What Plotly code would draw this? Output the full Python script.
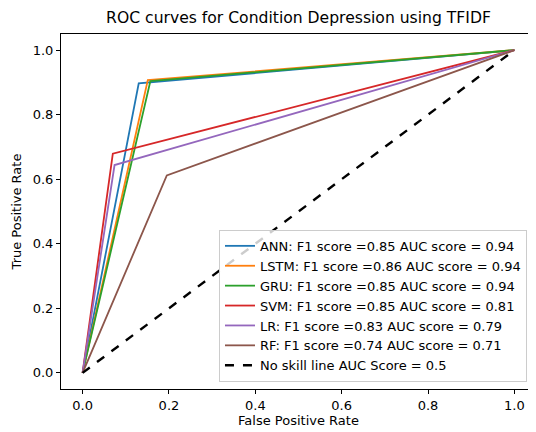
import plotly.graph_objects as go

# ROC knee points: (0,0) -> (fpr, tpr) -> (1,1)
models = ["ANN", "LSTM", "GRU", "SVM", "LR", "RF"]
fpr_knee = [0.130, 0.151, 0.157, 0.070, 0.074, 0.195]
tpr_knee = [0.897, 0.907, 0.904, 0.679, 0.644, 0.612]
f1_scores = ["0.85", "0.86", "0.85", "0.85", "0.83", "0.74"]
auc_scores = ["0.94", "0.94", "0.94", "0.81", "0.79", "0.71"]
colors = ["#1f77b4", "#ff7f0e", "#2ca02c", "#d62728", "#9467bd", "#8c564b"]
noskill_x = [0, 1]
noskill_y = [0, 1]
xticks = [0.0, 0.2, 0.4, 0.6, 0.8, 1.0]
yticks = [0.0, 0.2, 0.4, 0.6, 0.8, 1.0]

fig = go.Figure()
for m, fx, ty, f1, auc, c in zip(models, fpr_knee, tpr_knee, f1_scores, auc_scores, colors):
    fig.add_trace(go.Scatter(
        x=[0, fx, 1], y=[0, ty, 1], mode="lines",
        line=dict(color=c, width=1.8),
        name=f"{m}: F1 score ={f1} AUC score = {auc}",
    ))
fig.add_trace(go.Scatter(
    x=noskill_x, y=noskill_y, mode="lines",
    line=dict(color="black", width=2.4, dash="dash"),
    name="No skill line AUC Score = 0.5",
))

# page body has an 8px margin, so the figure is sized/offset to compensate
W, H = 528, 424
font = "DejaVu Sans"
fig.update_layout(
    width=W, height=H,
    paper_bgcolor="white", plot_bgcolor="white",
    margin=dict(l=53, r=0, t=26, b=43),
    font=dict(family=font, size=13, color="black"),
    title=dict(text="ROC curves for Condition Depression using TFIDF",
               x=0.5, xref="paper", xanchor="center",
               y=1 - 10 / H, yanchor="middle",
               font=dict(size=15.6, color="black")),
    showlegend=True,
    legend=dict(x=0.981, y=0.02, xanchor="right", yanchor="bottom",
                bgcolor="rgba(255,255,255,0.8)", bordercolor="#cccccc",
                borderwidth=1, font=dict(size=13), itemwidth=30,
                tracegroupgap=0),
)
fig.update_xaxes(
    range=[-0.05, 1.05], tickvals=xticks, ticktext=[f"{v:.1f}" for v in xticks],
    showgrid=False, zeroline=False, showline=True, linecolor="black",
    linewidth=1, mirror=True, ticks="outside", ticklen=4, tickcolor="black",
    tickfont=dict(size=13), automargin=False,
    title=dict(text="False Positive Rate", font=dict(size=13), standoff=4),
)
fig.update_yaxes(
    range=[-0.05, 1.05], tickvals=yticks, ticktext=[f"{v:.1f}" for v in yticks],
    showgrid=False, zeroline=False, showline=True, linecolor="black",
    linewidth=1, mirror=False, ticks="outside", ticklen=4, tickcolor="black",
    tickfont=dict(size=13), automargin=False,
    title=dict(text="True Positive Rate", font=dict(size=13), standoff=8),
)
fig.write_html("out.html")
